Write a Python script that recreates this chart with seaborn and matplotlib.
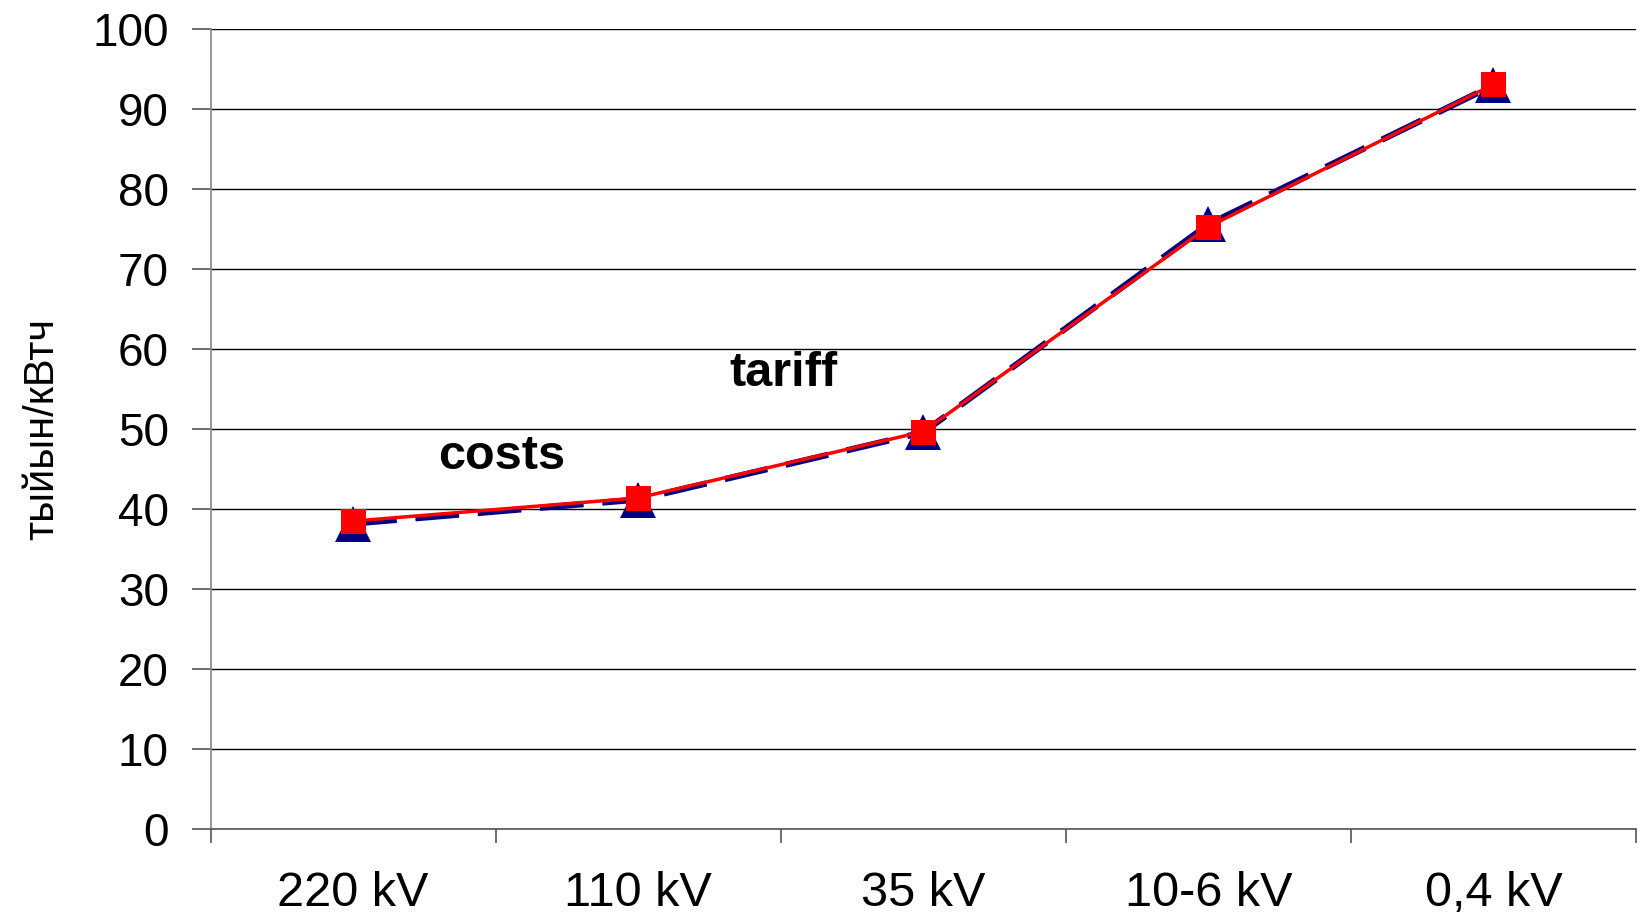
import matplotlib
matplotlib.use("Agg")
import matplotlib.pyplot as plt
import pandas as pd
import seaborn as sns
from matplotlib.ticker import FixedLocator, MultipleLocator

voltages = ["220 kV", "110 kV", "35 kV", "10-6 kV", "0,4 kV"]
costs = [38.2, 41.2, 49.6, 75.6, 93.0]
tariff = [38.5, 41.4, 49.7, 75.3, 93.1]

df = pd.DataFrame({
    "pos": list(range(len(voltages))) * 2,
    "value": costs + tariff,
    "series": ["costs"] * len(costs) + ["tariff"] * len(tariff),
})

sns.set_style("white")
plt.rcParams["font.family"] = ["Liberation Sans", "DejaVu Sans"]
plt.rcParams["text.color"] = "black"
plt.rcParams["axes.labelcolor"] = "black"
plt.rcParams["xtick.color"] = "black"
plt.rcParams["ytick.color"] = "black"

fig = plt.figure(figsize=(16.45, 9.16), dpi=100)
ax = fig.add_axes([0.128, 0.095, 0.8665, 0.873])

sns.lineplot(data=df[df.series == "costs"], x="pos", y="value", ax=ax,
             color="#000080", linewidth=4.5, marker="^", markersize=26,
             markeredgewidth=0, legend=False)
ax.lines[-1].set_dashes([7, 3])
sns.lineplot(data=df[df.series == "tariff"], x="pos", y="value", ax=ax,
             color="#ff0000", linewidth=2.5, marker="s", markersize=18,
             markeredgewidth=0, legend=False)

ax.set_xlim(-0.5, len(voltages) - 0.5)
ax.set_ylim(0, 100)
ax.yaxis.set_major_locator(MultipleLocator(10))
ax.grid(axis="y", color="black", linewidth=1.0)
ax.set_axisbelow(True)

ax.xaxis.set_major_locator(FixedLocator(range(len(voltages))))
ax.set_xticklabels(voltages)
ax.xaxis.set_minor_locator(FixedLocator([i - 0.5 for i in range(len(voltages) + 1)]))
ax.tick_params(axis="x", which="major", length=0, pad=30, labelsize=35)
ax.tick_params(axis="x", which="minor", length=10, width=1.2, color="#555555", direction="out", bottom=True)
ax.tick_params(axis="y", length=14, width=1.2, color="#555555", direction="out", left=True, labelsize=33, pad=16)

for side in ["top", "right"]:
    ax.spines[side].set_visible(False)
ax.spines["left"].set_color("#888888")
ax.spines["left"].set_linewidth(1.2)
ax.spines["bottom"].set_color("#555555")
ax.spines["bottom"].set_linewidth(1.2)

ax.set_xlabel("")
ax.set_ylabel("тыйын/кВтч", fontsize=30, labelpad=22)

ax.text(0.52, 46.6, "costs", fontsize=35, fontweight="bold", ha="center", va="center")
ax.text(1.51, 57.0, "tariff", fontsize=35, fontweight="bold", ha="center", va="center")

fig.savefig("out.png", dpi=100)
